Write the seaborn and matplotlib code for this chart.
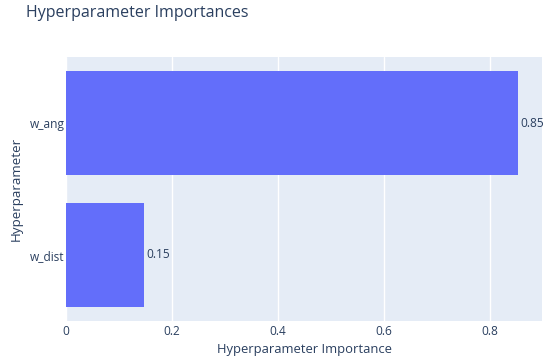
import matplotlib
matplotlib.use("Agg")
import matplotlib.pyplot as plt
import seaborn as sns
import pandas as pd

params = ["w_ang", "w_dist"]
importances = [0.853, 0.147]
labels = ["0.85", "0.15"]

sns.set_theme(style="darkgrid")
plt.rcParams["font.family"] = ["Open Sans", "DejaVu Sans"]

txt = "#2a3f5f"
df = pd.DataFrame({"Hyperparameter": params, "Importance": importances})

fig = plt.figure(figsize=(5.5, 3.62), dpi=100)
ax = fig.add_axes([0.12, 0.1133, 0.8655, 0.7292])
ax.set_facecolor("#E5ECF6")
sns.barplot(data=df, x="Importance", y="Hyperparameter", order=params,
            color="#636EFA", saturation=1, width=0.79, ax=ax, edgecolor="none")

for p, lab in zip(ax.patches, labels):
    ax.text(p.get_width() + 0.004, p.get_y() + p.get_height() / 2, lab,
            va="center", ha="left", fontsize=8.6, color=txt)

ax.set_xlim(0, 0.898)
ax.set_ylim(1.5, -0.5)
ax.set_xticks([0, 0.2, 0.4, 0.6, 0.8])
ax.set_xticklabels(["0", "0.2", "0.4", "0.6", "0.8"])
ax.grid(axis="x", color="white", linewidth=1)
ax.grid(axis="y", visible=False)
for s in ax.spines.values():
    s.set_visible(False)
ax.tick_params(axis="both", length=0, labelsize=8.6, colors=txt)
ax.tick_params(axis="y", pad=1)
ax.tick_params(axis="x", pad=3)
ax.set_xlabel("")
ax.set_ylabel("Hyperparameter", fontsize=9.6, color=txt, labelpad=5)
fig.text((66 + 542) / 2 / 550, 1 - 350 / 362, "Hyperparameter Importance",
         fontsize=9.4, color=txt, ha="center", va="center")
fig.text(26 / 550, 1 - 13 / 362, "Hyperparameter Importances", fontsize=11.5,
         color=txt, ha="left", va="center")

fig.savefig("out.png", dpi=100)
